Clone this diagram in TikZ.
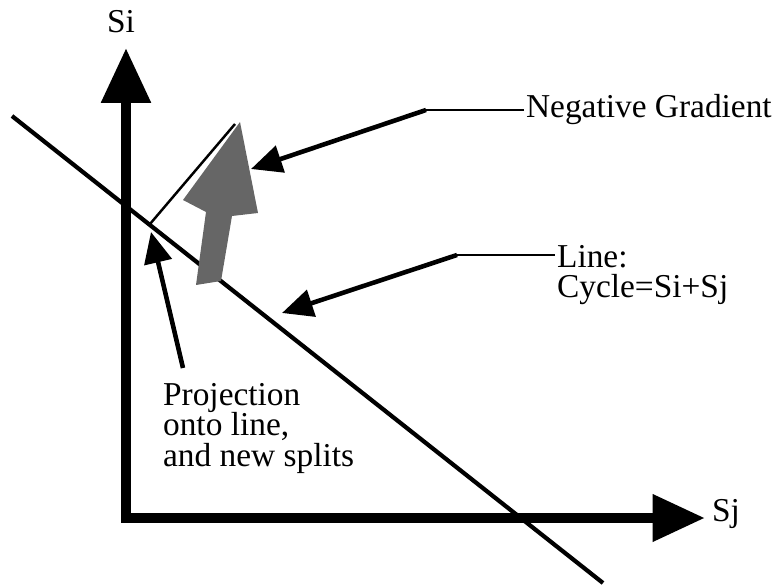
\documentclass[tikz,border=0pt]{standalone}
\usepackage{fontspec}
\setmainfont{Liberation Serif}
\usetikzlibrary{arrows.meta}

\begin{document}
\begin{tikzpicture}[x=0.02cm,y=-0.02cm,
      axis/.style={line width=6pt,{Triangle[length=1.1cm,width=0.95cm]}-{Triangle[length=1.05cm,width=0.9cm]}},
      callout/.style={line width=2.6pt,{Triangle[length=0.62cm,width=0.55cm]}-},
      leader/.style={line width=1.6pt},
      label node/.style={inner sep=1pt,font=\fontsize{19}{17.5}\selectfont,align=left}]
  \useasboundingbox (0,0) rectangle (777,587);

  % axes and the constraint line
  \coordinate (si tip) at (126,48);
  \coordinate (origin) at (126,518);
  \coordinate (sj tip) at (705,518);
  \draw[axis] (si tip) -- (origin) -- (sj tip);
  \coordinate (line start) at (12,116);
  \coordinate (line end) at (603,583);
  \draw[line width=2.4pt] (line start) -- (line end);

  \node[label node] (si) at (121,22) {Si};
  \node[label node,anchor=west] (sj) at (710,514) {Sj};

  % the gradient arrow and its projection
  \fill[black!60] (240,122) -- (258,213) -- (232,216) -- (221,281)
    -- (196,285) -- (206,212) -- (183,200) -- cycle;
  \coordinate (foot) at (150,224);
  \coordinate (proj top) at (235,124);
  \draw[line width=1.4pt] (foot) -- (proj top);

  % labels with their pointers
  \node[label node,anchor=west] (grad) at (524,110) {Negative Gradient};
  \coordinate (grad bend) at (426,110);
  \coordinate (grad tip) at (251,169);
  \draw[leader] (grad.west) -- (grad bend);
  \draw[callout] (grad tip) -- (grad bend);

  \node[label node,anchor=north west] (cycle) at (555,243) {Line:\\Cycle=Si+Sj};
  \coordinate (cycle bend) at (457,255);
  \coordinate (cycle tip) at (282,313);
  \draw[leader] (cycle bend) -- (cycle bend -| cycle.west);
  \draw[callout] (cycle tip) -- (cycle bend);

  \node[label node,anchor=north west] (proj) at (161,381) {Projection\\onto line,\\and new splits};
  \coordinate (proj tip) at (151,232);
  \coordinate (proj tail) at (183,368);
  \draw[callout] (proj tip) -- (proj tail);
\end{tikzpicture}
\end{document}
